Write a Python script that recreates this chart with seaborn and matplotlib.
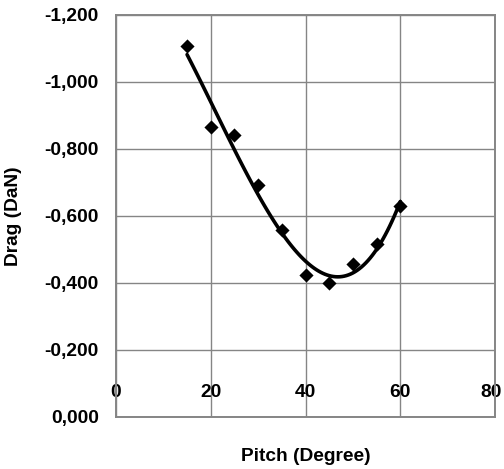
import numpy as np
import pandas as pd
import matplotlib
matplotlib.use("Agg")
import matplotlib.pyplot as plt
import matplotlib.transforms as mtransforms
import seaborn as sns
from matplotlib.ticker import FuncFormatter

# measured points
pitch = [15, 20, 25, 30, 35, 40, 45, 50, 55, 60]
drag = [-1.107, -0.866, -0.842, -0.693, -0.558, -0.424, -0.399, -0.457, -0.516, -0.631]
x_ticks = [0, 20, 40, 60, 80]
y_ticks = [-1.2, -1.0, -0.8, -0.6, -0.4, -0.2, 0.0]

GRID = "#858585"
FS = 13.8

sns.set_style("white", rc={"text.color": "black", "axes.labelcolor": "black",
                           "xtick.color": "black", "ytick.color": "black"})
plt.rcParams["font.family"] = ["Liberation Sans", "DejaVu Sans"]
plt.rcParams["font.weight"] = "bold"

df = pd.DataFrame({"pitch": pitch, "drag": drag})

fig = plt.figure(figsize=(5.04, 4.69), dpi=100)
ax = fig.add_axes([0.2302, 0.1109, 0.7520, 0.8572])

sns.regplot(x="pitch", y="drag", data=df, order=3, ci=None, marker="D",
            scatter_kws={"color": "black", "s": 52, "linewidths": 0,
                         "alpha": 1, "zorder": 3},
            line_kws={"color": "black", "linewidth": 2.6},
            ax=ax)

ax.set_xlim(0, 80)
ax.set_ylim(0, -1.2)
ax.set_xticks(x_ticks)
ax.set_yticks(y_ticks)


def comma_fmt(v, pos):
    if abs(v) < 1e-9:
        v = 0.0
    return f"{v:.3f}".replace(".", ",")


ax.yaxis.set_major_formatter(FuncFormatter(comma_fmt))
ax.grid(True, color=GRID, linewidth=1.0)
ax.set_axisbelow(True)
for s in ax.spines.values():
    s.set_color(GRID)
    s.set_linewidth(1.4)

ax.tick_params(axis="y", direction="out", length=4.3, width=1.0, color=GRID,
               labelcolor="black", pad=8.0, labelsize=FS)
ax.tick_params(axis="x", direction="out", length=3, width=1.0, color=GRID,
               labelcolor="black", pad=-27, labelsize=FS)
for lab in ax.get_xticklabels() + ax.get_yticklabels():
    lab.set_fontweight("bold")

# keep the last x label inside the canvas
last = ax.get_xticklabels()[-1]
last.set_transform(last.get_transform() +
                   mtransforms.ScaledTranslation(-3 / 72, 0, fig.dpi_scale_trans))

ax.set_xlabel("Pitch (Degree)", fontsize=FS, fontweight="bold", va="center", color="black")
ax.set_ylabel("Drag (DaN)", fontsize=FS, fontweight="bold", va="center", color="black")
ax.xaxis.set_label_coords(0.5, -0.0995)
ax.yaxis.set_label_coords(-0.27, 0.5)

fig.savefig("out.png", dpi=100, facecolor="white")
